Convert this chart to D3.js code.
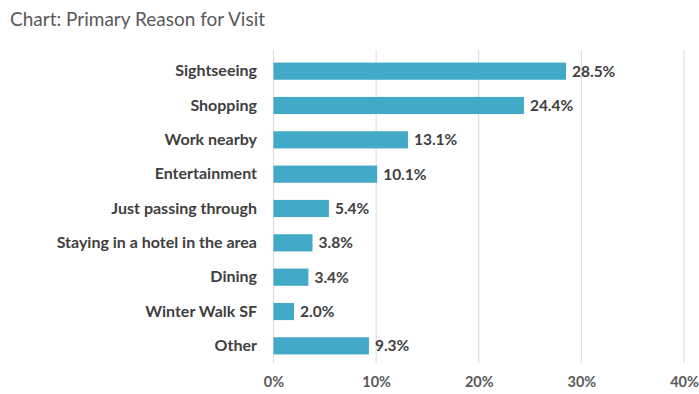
<!DOCTYPE html>
<html><head><meta charset="utf-8">
<script src="https://cdn.jsdelivr.net/npm/d3@7"></script>
<style>
html,body{margin:0;padding:0;background:#fff;}
svg{display:block;}
text{font-family:Lato,"Open Sans",sans-serif;}
</style></head>
<body>
<svg id="chart" width="699" height="394"></svg>
<script>
const categories = ["Sightseeing","Shopping","Work nearby","Entertainment","Just passing through","Staying in a hotel in the area","Dining","Winter Walk SF","Other"];
const values = [28.5,24.4,13.1,10.1,5.4,3.8,3.4,2.0,9.3];
const tickValues = [0,10,20,30,40];
const title = "Chart: Primary Reason for Visit";

const svg = d3.select("#chart");
const x = d3.scaleLinear().domain([0,40]).range([273.5,684]);
const y = d3.scaleBand().domain(categories).range([54,363]).paddingInner(0.5).paddingOuter(0.25);

svg.append("text").attr("x",10).attr("y",26).attr("fill","#595959")
  .style("font-size","19px").text(title);

// gridlines
svg.append("g").selectAll("line").data(tickValues).join("line")
  .attr("x1",d=>x(d)).attr("x2",d=>x(d)).attr("y1",50).attr("y2",363)
  .attr("stroke","#d9d9d9").attr("stroke-width",1);

// x axis labels
const xAxis = d3.axisBottom(x).tickValues(tickValues).tickFormat(d=>d+"%").tickSize(0).tickPadding(0);
const gx = svg.append("g").attr("transform","translate(0,377)").call(xAxis);
gx.select(".domain").remove();
gx.selectAll("text").attr("fill","#595959").style("font-size","14.5px").style("font-weight","bold")
  .style("font-family","Lato,'Open Sans',sans-serif");

// y axis labels
const yAxis = d3.axisLeft(y).tickSize(0).tickPadding(0);
const gy = svg.append("g").attr("transform","translate(257,0)").call(yAxis);
gy.select(".domain").remove();
gy.selectAll("text").attr("fill","#404040").style("font-size","16px").style("font-weight","bold")
  .style("font-family","Lato,'Open Sans',sans-serif");

// bars
svg.append("g").selectAll("rect").data(categories).join("rect")
  .attr("x",x(0)).attr("y",d=>y(d)).attr("height",y.bandwidth())
  .attr("width",(d,i)=>x(values[i])-x(0)).attr("fill","#42a9c6");

// value labels
svg.append("g").selectAll("text").data(categories).join("text")
  .attr("x",(d,i)=>x(values[i])+6).attr("y",d=>y(d)+y.bandwidth()/2).attr("dy","0.35em")
  .attr("fill","#404040").style("font-size","15.5px").style("font-weight","bold")
  .text((d,i)=>values[i].toFixed(1)+"%");
</script>
</body></html>
